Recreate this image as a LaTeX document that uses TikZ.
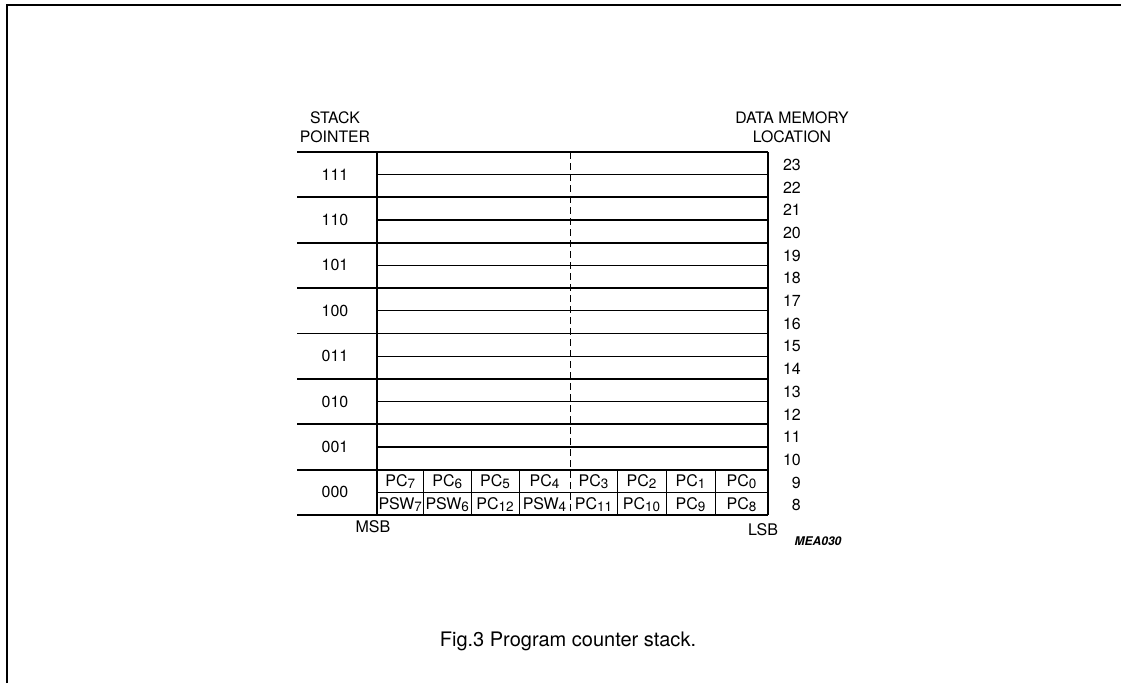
\documentclass[tikz,border=0pt]{standalone}
\usepackage{fontspec}
\setmainfont{TeX Gyre Heros}
\newcommand{\sbs}[1]{\raisebox{-1.8pt}{\fontsize{13.5}{13.5}\selectfont #1}}
\begin{document}
\begin{tikzpicture}[x=1pt,y=-1pt,
  frameline/.style={line width=2.2pt,black},
  rowline/.style={line width=1.8pt,black},
  subline/.style={line width=1.3pt,black},
  cellline/.style={line width=1pt,black},
  dashline/.style={line width=0.9pt,black,dash pattern=on 7pt off 4pt},
  lbl/.style={inner sep=0pt,font=\fontsize{16}{16.5}\selectfont},
  celltext/.style={inner sep=0pt,font=\fontsize{16}{16}\selectfont},
  head/.style={inner sep=0pt,align=center,font=\fontsize{15.8}{15.5}\selectfont}]
\useasboundingbox (0,0) rectangle (1121,683);
% frame
\draw[frameline] (7,683) -- (7,5) -- (1121,5);
% row lines
\foreach \i in {0,...,8}
  \draw[rowline] (297,{152+\i*45.375}) -- (768,{152+\i*45.375});
% sublines
\foreach \i in {0,...,6}
  \draw[subline] (377,{152+(\i+0.5)*45.375}) -- (768,{152+(\i+0.5)*45.375});
\draw[cellline] (377,{152+7.5*45.375}) -- (768,{152+7.5*45.375});
% verticals
\draw[rowline] (377,152) -- (377,515);
\draw[rowline] (768,152) -- (768,515);
\draw[dashline] (570,152) -- (570,515);
\foreach \x in {423.5,471,519,617,666,715}
  \draw[cellline] (\x,470.6) -- (\x,515);
% stack pointer labels
\foreach \t [count=\k from 0] in {111,110,101,100,011,010,001,000}
  \node[lbl] (sp\t) at (335,{152+(\k+0.5)*45.375}) {\t};
% data memory locations
\foreach \n [count=\k from 0] in {23,22,21,20,19,18,17,16,15,14,13,12,11,10,9,8}
  \node[lbl,anchor=east] (dm\n) at (801,{152+(\k+0.5)*22.6875+1.5}) {\n};
% cells
\foreach \xa/\xb/\t [count=\k] in {377/423.5/PC\sbs{7},423.5/471/PC\sbs{6},471/519/PC\sbs{5},519/570/PC\sbs{4},570/617/PC\sbs{3},617/666/PC\sbs{2},666/715/PC\sbs{1},715/768/PC\sbs{0}}
  \node[celltext] (top\k) at ({(\xa+\xb)/2},481.5) {\t};
\foreach \xa/\xb/\t [count=\k] in {377/423.5/PSW\sbs{7},423.5/471/PSW\sbs{6},471/519/PC\sbs{12},519/570/PSW\sbs{4},570/617/PC\sbs{11},617/666/PC\sbs{10},666/715/PC\sbs{9},715/768/PC\sbs{8}}
  \node[celltext] (bot\k) at ({(\xa+\xb)/2},504.5) {\t};
% headings
\node[head] (stackptr) at (335,127) {STACK\\[3pt]POINTER};
\node[head] (dataloc) at (792,127) {DATA MEMORY\\[3pt]LOCATION};
\node[lbl] (msb) at (373,527) {MSB};
\node[lbl] (lsb) at (763,530) {LSB};
\node[inner sep=0pt,font=\fontsize{12}{12}\selectfont\bfseries\itshape] (code) at (818,541) {MEA030};
\node[inner sep=0pt,font=\fontsize{20}{20}\selectfont] (caption) at (568,641) {Fig.3 Program counter stack.};
\end{tikzpicture}
\end{document}
